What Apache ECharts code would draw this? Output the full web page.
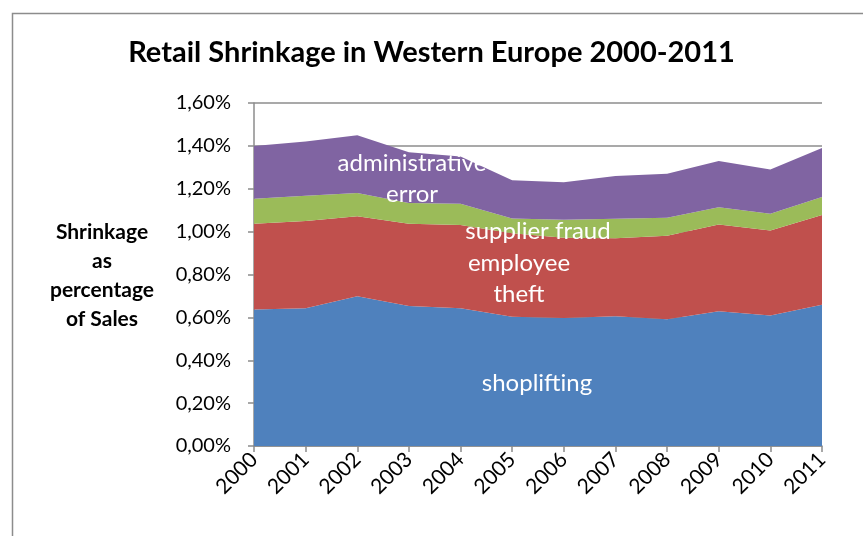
<!DOCTYPE html>
<html>
<head>
<meta charset="utf-8">
<script src="https://cdn.jsdelivr.net/npm/echarts@6/dist/echarts.min.js"></script>
<style>
  html, body { margin: 0; padding: 0; background: #fff; }
  #container { width: 863px; height: 536px; }
</style>
</head>
<body>
<div id="container"></div>
<script>
var dom = document.getElementById("container");
var myChart = echarts.init(dom);

// values in percent of sales
var years = ['2000', '2001', '2002', '2003', '2004', '2005', '2006', '2007', '2008', '2009', '2010', '2011'];
var shoplifting = [0.637, 0.643, 0.698, 0.653, 0.642, 0.603, 0.597, 0.605, 0.591, 0.628, 0.609, 0.659];
var employeeTheft = [0.400, 0.407, 0.374, 0.384, 0.389, 0.389, 0.375, 0.364, 0.390, 0.405, 0.396, 0.419];
var supplierFraud = [0.116, 0.117, 0.108, 0.096, 0.099, 0.069, 0.083, 0.091, 0.084, 0.081, 0.078, 0.083];
var adminError = [0.247, 0.253, 0.270, 0.237, 0.220, 0.179, 0.175, 0.200, 0.205, 0.216, 0.207, 0.229];

var font = 'Lato';
var gray = '#8c8c8c';

function area(name, data, color) {
    return {
        name: name,
        type: 'line',
        stack: 'total',
        data: data,
        showSymbol: false,
        lineStyle: { width: 0 },
        areaStyle: { color: color, opacity: 1 },
        itemStyle: { color: color },
        silent: true
    };
}

function areaLabel(text, x, y) {
    return {
        type: 'text',
        x: x,
        y: y,
        z: 100,
        style: {
            text: text,
            fill: '#fff',
            font: '24px ' + font,
            align: 'center',
            verticalAlign: 'middle'
        }
    };
}

var option = {
    animation: false,
    textStyle: { fontFamily: font },
    title: {
        text: 'Retail Shrinkage in Western Europe 2000-2011',
        left: 'center',
        top: 33,
        textStyle: { fontFamily: font, fontSize: 29, fontWeight: 'bold', color: '#000' }
    },
    grid: { left: 254, right: 41, top: 103, bottom: 90, containLabel: false },
    xAxis: {
        type: 'category',
        data: years,
        boundaryGap: false,
        axisLine: { lineStyle: { color: gray, width: 1.5 } },
        axisTick: { show: true, interval: 0, length: 6, lineStyle: { color: gray, width: 1.5 } },
        axisLabel: { interval: 0, rotate: 45, fontSize: 21, color: '#000', margin: 10, fontFamily: font }
    },
    yAxis: {
        type: 'value',
        min: 0,
        max: 1.6,
        interval: 0.2,
        axisLine: { show: true, lineStyle: { color: gray, width: 1.5 } },
        axisTick: { show: true, length: 6, lineStyle: { color: gray, width: 1.5 } },
        splitLine: { lineStyle: { color: gray, width: 1.5 } },
        axisLabel: {
            fontSize: 20,
            color: '#000',
            margin: 23,
            fontFamily: font,
            formatter: function (v) { return v.toFixed(2).replace('.', ',') + '%'; }
        }
    },
    graphic: [
        {
            type: 'rect',
            left: 10,
            top: 11,
            z: -10,
            shape: { width: 900, height: 600 },
            style: { fill: 'none', stroke: '#8c8c8c', lineWidth: 1.5 }
        },
        {
            type: 'text',
            x: 102,
            y: 218,
            style: {
                text: 'Shrinkage\nas\npercentage\nof Sales',
                fill: '#000',
                font: 'bold 21px ' + font,
                lineHeight: 29,
                align: 'center',
                verticalAlign: 'top'
            }
        },
        areaLabel('administrative', 412, 163),
        areaLabel('error', 412, 194),
        areaLabel('supplier fraud', 538, 231),
        areaLabel('employee', 519, 263),
        areaLabel('theft', 519, 294),
        areaLabel('shoplifting', 537, 383)
    ],
    series: [
        area('shoplifting', shoplifting, '#4F81BD'),
        area('employee theft', employeeTheft, '#C0504D'),
        area('supplier fraud', supplierFraud, '#9BBB59'),
        area('administrative error', adminError, '#8064A2')
    ]
};

myChart.setOption(option);
</script>
</body>
</html>
